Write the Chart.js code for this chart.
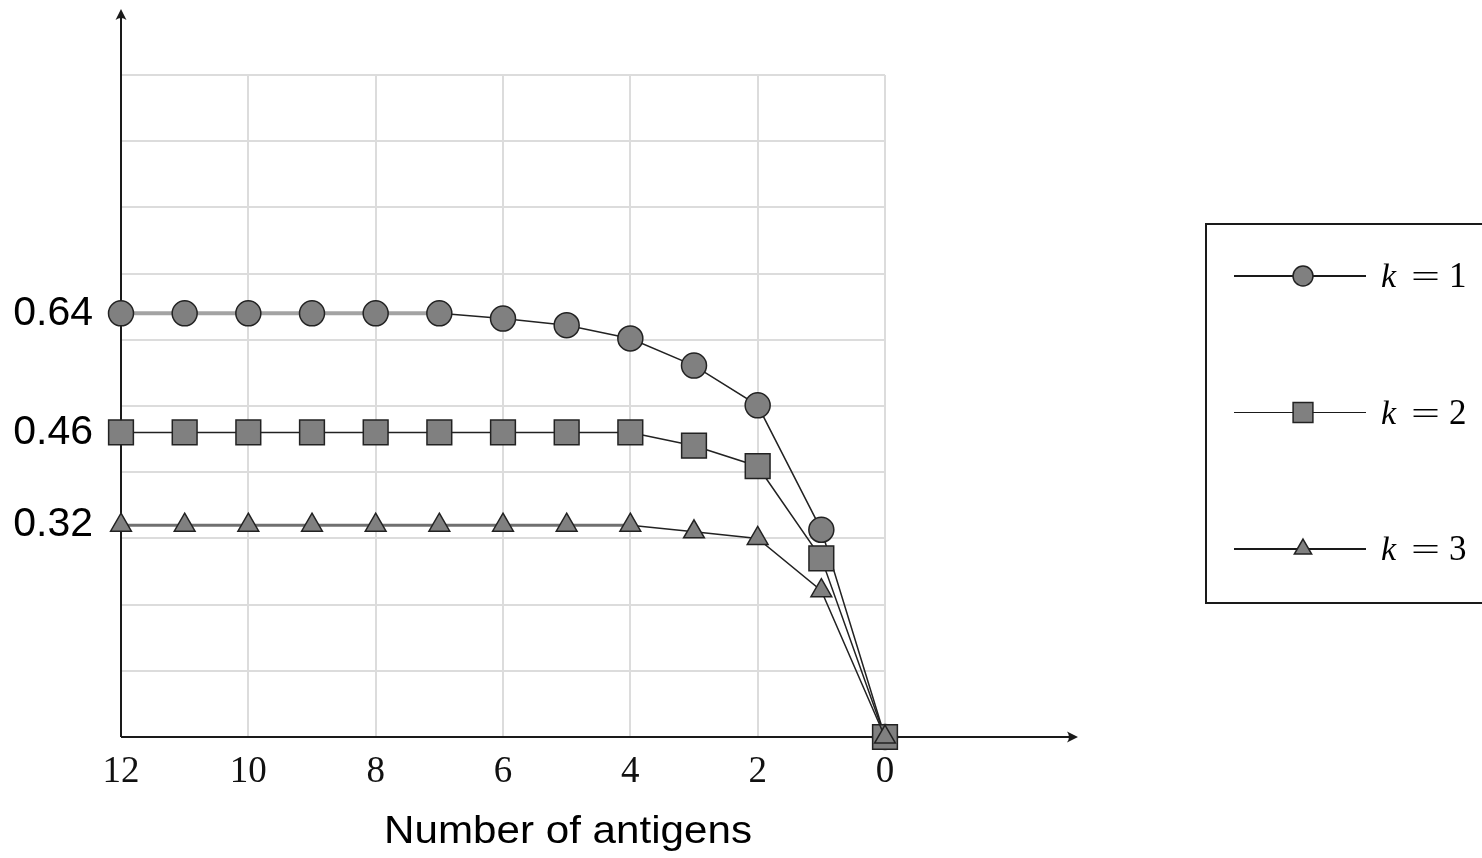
<!DOCTYPE html>
<html>
<head>
<meta charset="utf-8">
<script src="https://cdn.jsdelivr.net/npm/chart.js@4"></script>
<style>
  html, body { margin: 0; padding: 0; background: #fff; }
  canvas { display: block; }
</style>
</head>
<body>
<canvas id="myChart" width="1482" height="858"></canvas>
<script>
// number of antigens, plotted from 12 down to 0
const antigens = [12, 11, 10, 9, 8, 7, 6, 5, 4, 3, 2, 1, 0];

// one series per k
const k1 = [0.64, 0.64, 0.64, 0.64, 0.64, 0.64, 0.632, 0.622, 0.602, 0.561, 0.501, 0.313, 0];
const k2 = [0.46, 0.46, 0.46, 0.46, 0.46, 0.46, 0.46, 0.46, 0.46, 0.44, 0.409, 0.27, 0];
const k3 = [0.32, 0.32, 0.32, 0.32, 0.32, 0.32, 0.32, 0.32, 0.32, 0.31, 0.30, 0.221, 0];

const seriesNames = ['k = 1', 'k = 2', 'k = 3'];
const xTitle = 'Number of antigens';

// y ticks: grid every 0.1, labels only at these values
const yGrid = [0, 0.1, 0.2, 0.3, 0.4, 0.5, 0.6, 0.7, 0.8, 0.9, 1.0];
const yLabels = [0.32, 0.46, 0.64];
const xTicks = [0, 2, 4, 6, 8, 10, 12];

const FILL = '#808080';
const EDGE = '#222';
const INK = '#1a1a1a';

function toPoints(values) {
  return antigens.map((a, i) => ({ x: a, y: values[i] }));
}

// flat head of a line is drawn heavier and grey
function headStyle(lastFlat, headColor, headWidth) {
  return {
    borderColor: ctx => (ctx.p1DataIndex <= lastFlat ? headColor : EDGE),
    borderWidth: ctx => (ctx.p1DataIndex <= lastFlat ? headWidth : 1.5),
  };
}

const data = {
  datasets: [
    {
      label: seriesNames[0],
      data: toPoints(k1),
      borderColor: EDGE,
      borderWidth: 1.5,
      segment: headStyle(5, '#a3a3a3', 4),
      pointStyle: 'circle',
      pointRadius: 12.5,
      pointBackgroundColor: FILL,
      pointBorderColor: EDGE,
      pointBorderWidth: 1.5,
      order: 2,
      legendLine: 2,
      legendRadius: 10,
    },
    {
      label: seriesNames[1],
      data: toPoints(k2),
      borderColor: EDGE,
      borderWidth: 1.5,
      pointStyle: 'rect',
      pointRadius: 17.5,
      pointBackgroundColor: FILL,
      pointBorderColor: EDGE,
      pointBorderWidth: 1.5,
      order: 1,
      legendLine: 1,
      legendRadius: 14,
    },
    {
      label: seriesNames[2],
      data: toPoints(k3),
      borderColor: EDGE,
      borderWidth: 1.5,
      segment: headStyle(8, '#707070', 3),
      pointStyle: 'triangle',
      pointRadius: 12,
      pointBackgroundColor: FILL,
      pointBorderColor: EDGE,
      pointBorderWidth: 1.5,
      order: 0,
      legendLine: 2,
      legendRadius: 10,
    },
  ],
};

// text squeezed/stretched to a given width
function fitText(ctx, text, x, y, width) {
  const w = ctx.measureText(text).width;
  ctx.save();
  ctx.translate(x, y);
  ctx.scale(width / w, 1);
  ctx.fillText(text, 0, 0);
  ctx.restore();
}

// axis lines with arrow heads, plus the x title
const axesPlugin = {
  id: 'arrowAxes',
  beforeDatasetsDraw(chart) {
    const { ctx, chartArea: a } = chart;
    const x0 = a.left, y0 = a.bottom;
    const xEnd = a.right + 193, yEnd = a.top - 66;
    ctx.save();
    ctx.strokeStyle = INK;
    ctx.fillStyle = INK;
    ctx.lineWidth = 2;
    ctx.beginPath();
    ctx.moveTo(x0, y0);
    ctx.lineTo(xEnd - 4, y0);
    ctx.moveTo(x0, y0);
    ctx.lineTo(x0, yEnd + 4);
    ctx.stroke();
    // x arrow
    ctx.beginPath();
    ctx.moveTo(xEnd, y0);
    ctx.lineTo(xEnd - 11, y0 - 5.5);
    ctx.quadraticCurveTo(xEnd - 7, y0, xEnd - 11, y0 + 5.5);
    ctx.closePath();
    ctx.fill();
    // y arrow
    ctx.beginPath();
    ctx.moveTo(x0, yEnd);
    ctx.lineTo(x0 - 5.5, yEnd + 11);
    ctx.quadraticCurveTo(x0, yEnd + 7, x0 + 5.5, yEnd + 11);
    ctx.closePath();
    ctx.fill();

    ctx.fillStyle = '#000';
    ctx.font = '39px "Liberation Sans", Arial';
    ctx.textAlign = 'left';
    ctx.textBaseline = 'alphabetic';
    fitText(ctx, xTitle, 384, 843, 368);
    ctx.restore();
  },
};

// boxed legend on the right, one row per series
const legendPlugin = {
  id: 'boxLegend',
  afterDraw(chart) {
    const { ctx } = chart;
    const box = { left: 1206, top: 224, right: 1492, bottom: 603 };
    const rows = [276, 412.5, 549];
    ctx.save();
    ctx.strokeStyle = INK;
    ctx.lineWidth = 2;
    ctx.strokeRect(box.left, box.top, box.right - box.left, box.bottom - box.top);

    chart.data.datasets.forEach((ds, i) => {
      const y = rows[i];
      ctx.strokeStyle = INK;
      ctx.lineWidth = ds.legendLine;
      ctx.beginPath();
      ctx.moveTo(1234, y);
      ctx.lineTo(1366, y);
      ctx.stroke();

      ctx.fillStyle = ds.pointBackgroundColor;
      ctx.strokeStyle = ds.pointBorderColor;
      ctx.lineWidth = ds.pointBorderWidth;
      Chart.helpers.drawPoint(ctx, {
        pointStyle: ds.pointStyle,
        radius: ds.legendRadius,
        rotation: 0,
        borderWidth: ds.pointBorderWidth,
      }, 1303, y);

      const parts = ds.label.split(' ');
      const base = y + 11;
      ctx.fillStyle = '#000';
      ctx.textBaseline = 'alphabetic';
      ctx.textAlign = 'left';
      ctx.font = 'italic 34px "Liberation Serif"';
      ctx.fillText(parts[0], 1381, base);
      ctx.font = '32px "Liberation Serif"';
      fitText(ctx, parts[1], 1411, base, 29);
      ctx.font = '35px "Liberation Serif"';
      ctx.fillText(parts[2], 1449, base);
    });
    ctx.restore();
  },
};

const config = {
  type: 'line',
  data: data,
  options: {
    responsive: false,
    animation: false,
    clip: false,
    layout: { padding: { left: 0, top: 75, right: 597, bottom: 0 } },
    plugins: {
      legend: { display: false },
      tooltip: { enabled: false },
    },
    scales: {
      x: {
        type: 'linear',
        reverse: true,
        min: 0,
        max: 12,
        afterFit: s => { s.height = 121; },
        afterBuildTicks: s => { s.ticks = xTicks.map(v => ({ value: v })); },
        border: { display: false },
        grid: { color: '#dcdcdc', lineWidth: 2, drawTicks: false },
        ticks: {
          autoSkip: false,
          maxRotation: 0,
          padding: 13,
          color: '#111',
          font: { family: '"Liberation Serif"', size: 37 },
        },
      },
      y: {
        type: 'linear',
        min: 0,
        max: 1,
        afterFit: s => { s.width = 121; },
        afterBuildTicks: s => {
          s.ticks = yGrid.concat(yLabels).sort((a, b) => a - b).map(v => ({ value: v }));
        },
        border: { display: false },
        grid: {
          lineWidth: 2,
          drawTicks: false,
          color: ctx => (ctx.tick && yLabels.includes(ctx.tick.value) ? 'rgba(0,0,0,0)' : '#dcdcdc'),
        },
        ticks: {
          autoSkip: false,
          padding: 28,
          color: '#000',
          font: { family: '"Liberation Sans", Arial', size: 41 },
          callback: v => (yLabels.includes(v) ? String(v) : ''),
        },
      },
    },
  },
  plugins: [axesPlugin, legendPlugin],
};

const myChart = new Chart(document.getElementById('myChart'), config);
</script>
</body>
</html>
